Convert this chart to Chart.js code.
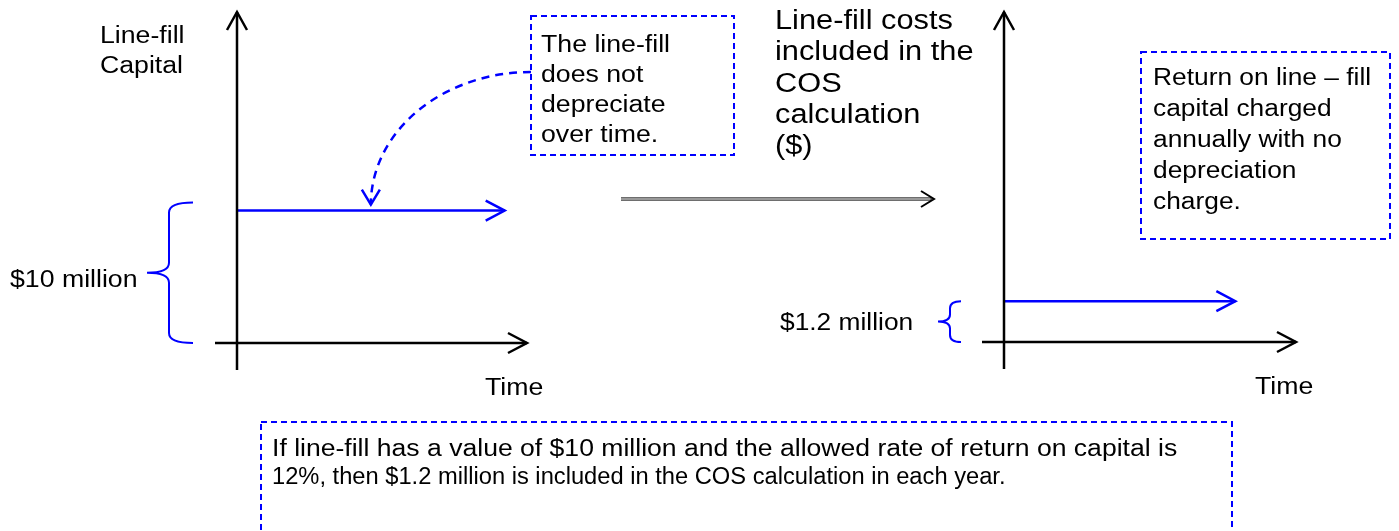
<!DOCTYPE html>
<html>
<head>
<meta charset="utf-8">
<script src="https://cdn.jsdelivr.net/npm/chart.js@4.4.0/dist/chart.umd.min.js"></script>
<style>
  html, body { margin: 0; padding: 0; background: #fff; }
  #stage { position: relative; width: 1399px; height: 531px; overflow: hidden; }
  #stage canvas { position: absolute; left: 0; top: 0; }
  .txt {
    position: absolute;
    font-family: "Liberation Sans", Arial, sans-serif;
    font-size: 23px;
    line-height: 30px;
    color: #000;
    white-space: nowrap;
    transform: scaleX(1.16);
    transform-origin: 0 0;
  }
  .txt .row { display: block; transform-origin: 0 0; }
</style>
</head>
<body>
<div id="stage">
  <canvas id="capitalChart" width="1399" height="531"></canvas>
  <canvas id="costChart" width="1399" height="531"></canvas>

  <div class="txt" style="left:100px;top:20px">Line-fill<br>Capital</div>
  <div class="txt" style="left:10px;top:264px">$10 million</div>
  <div class="txt" style="left:541px;top:29px">The line-fill<br>does not<br>depreciate<br>over time.</div>
  <div class="txt" style="left:485px;top:372px">Time</div>

  <div class="txt" style="left:775px;top:5px;font-size:27px;line-height:31.3px;transform:scaleX(1.14)">Line-fill costs<br>included in the<br>COS<br>calculation<br>($)</div>
  <div class="txt" style="left:780px;top:307px;transform:scaleX(1.145)">$1.2 million</div>
  <div class="txt" style="left:1153px;top:62px;line-height:31px;transform:scaleX(1.145)">Return on line &ndash; fill<br>capital charged<br>annually with no<br>depreciation<br>charge.</div>
  <div class="txt" style="left:1255px;top:371px">Time</div>

  <div class="txt" style="left:272px;top:434px;line-height:28px;transform:none">
    <span class="row" style="transform:scaleX(1.155)">If line-fill has a value of $10 million and the allowed rate of return on capital is</span>
    <span class="row" style="transform:scaleX(1.03)">12%, then $1.2 million is included in the COS calculation in each year.</span>
  </div>
</div>

<script>
// Left panel: line-fill capital ($ million) over time
const timeCapital = [0, 12];
const capitalValues = [10, 10];
// Right panel: annual return on line-fill included in COS ($ million)
const timeCost = [0, 10.3];
const costValues = [1.2, 1.2];
// axis ranges
const timeRange = [0, 13];
const capitalRange = [0, 25];
const costRange = [0, 9.7];

const BLUE = '#0000ff';

function toPoints(xs, ys) {
    return xs.map((x, i) => ({ x: x, y: ys[i] }));
}

function chevron(ctx, tipX, tipY, dirX, dirY, len, half) {
    const px = -dirY, py = dirX;
    ctx.beginPath();
    ctx.moveTo(tipX - dirX * len + px * half, tipY - dirY * len + py * half);
    ctx.lineTo(tipX, tipY);
    ctx.lineTo(tipX - dirX * len - px * half, tipY - dirY * len - py * half);
    ctx.stroke();
}

function brace(ctx, xEnd, xMid, xTip, yTop, yBot, r) {
    const yMid = (yTop + yBot) / 2;
    ctx.beginPath();
    ctx.moveTo(xEnd, yTop);
    ctx.quadraticCurveTo(xMid, yTop, xMid, yTop + r);
    ctx.lineTo(xMid, yMid - r);
    ctx.quadraticCurveTo(xMid, yMid, xTip, yMid);
    ctx.quadraticCurveTo(xMid, yMid, xMid, yMid + r);
    ctx.lineTo(xMid, yBot - r);
    ctx.quadraticCurveTo(xMid, yBot, xEnd, yBot);
    ctx.stroke();
}

function dashedBox(ctx, x1, y1, x2, y2) {
    ctx.save();
    ctx.strokeStyle = BLUE;
    ctx.lineWidth = 2;
    ctx.setLineDash([6, 4]);
    ctx.strokeRect(x1, y1, x2 - x1, y2 - y1);
    ctx.restore();
}

// Axes with arrowheads, arrowhead on the series line, and the brace
const axesPlugin = {
    id: 'diagramAxes',
    afterDatasetsDraw(chart, args, opts) {
        const { ctx, chartArea } = chart;
        const x = chart.scales.x, y = chart.scales.y;
        const x0 = x.getPixelForValue(0);
        const y0 = y.getPixelForValue(0);
        ctx.save();
        ctx.lineWidth = 2.5;
        ctx.strokeStyle = '#000';
        ctx.beginPath();
        ctx.moveTo(x0, y0 + 27);
        ctx.lineTo(x0, chartArea.top);
        ctx.stroke();
        chevron(ctx, x0, chartArea.top, 0, -1, 18, 10);
        ctx.beginPath();
        ctx.moveTo(x0 - 22, y0);
        ctx.lineTo(chartArea.right, y0);
        ctx.stroke();
        chevron(ctx, chartArea.right, y0, 1, 0, 19, 10);

        const meta = chart.getDatasetMeta(0);
        const last = meta.data[meta.data.length - 1];
        ctx.strokeStyle = BLUE;
        chevron(ctx, last.x, last.y, 1, 0, 19, 10);

        const vals = chart.data.datasets[0].data;
        const yTop = y.getPixelForValue(vals[0].y) - opts.over;
        ctx.lineWidth = 2;
        brace(ctx, x0 - opts.gap, x0 - opts.gap - opts.mid, x0 - opts.gap - opts.depth, yTop, y0, opts.r);
        ctx.restore();
    }
};

// Notes around the left panel
const capitalNotes = {
    id: 'capitalNotes',
    afterDraw(chart) {
        const ctx = chart.ctx;
        const x = chart.scales.x, y = chart.scales.y;
        dashedBox(ctx, 531, 16, 734, 155);
        dashedBox(ctx, 261, 422, 1232, 545);

        // curved pointer from the note to the flat line
        const tx = x.getPixelForValue(6);
        const ty = y.getPixelForValue(capitalValues[0]) - 6;
        const sx = 531, sy = 72;
        ctx.save();
        ctx.strokeStyle = BLUE;
        ctx.lineWidth = 2.5;
        ctx.setLineDash([8, 6]);
        ctx.beginPath();
        ctx.ellipse(sx, ty, sx - tx, ty - sy, 0, Math.PI * 1.5, Math.PI, true);
        ctx.stroke();
        ctx.setLineDash([]);
        chevron(ctx, tx, ty, 0, 1, 15, 9);
        ctx.restore();
    }
};

// Notes around the right panel
const costNotes = {
    id: 'costNotes',
    afterDraw(chart) {
        const ctx = chart.ctx;
        dashedBox(ctx, 1141, 52, 1390, 239);

        // grey transition arrow between the two panels
        ctx.save();
        ctx.lineCap = 'butt';
        ctx.strokeStyle = '#6e6e6e';
        ctx.lineWidth = 4;
        ctx.beginPath();
        ctx.moveTo(621, 199);
        ctx.lineTo(932, 199);
        ctx.stroke();
        ctx.strokeStyle = '#a8a8a8';
        ctx.lineWidth = 1.5;
        ctx.beginPath();
        ctx.moveTo(621, 199);
        ctx.lineTo(930, 199);
        ctx.stroke();
        ctx.strokeStyle = '#000';
        ctx.lineWidth = 2;
        chevron(ctx, 934, 199, 1, 0, 13, 8);
        ctx.restore();
    }
};

function makePanel(canvasId, times, values, yRange, padding, braceOpts, notes) {
    return new Chart(document.getElementById(canvasId), {
        type: 'line',
        data: {
            datasets: [{
                data: toPoints(times, values),
                borderColor: BLUE,
                borderWidth: 2.5,
                pointRadius: 0,
                tension: 0,
                fill: false
            }]
        },
        options: {
            responsive: false,
            animation: false,
            devicePixelRatio: 1,
            layout: { padding: padding },
            scales: {
                x: { type: 'linear', min: timeRange[0], max: timeRange[1], display: false },
                y: { type: 'linear', min: yRange[0], max: yRange[1], display: false }
            },
            plugins: {
                legend: { display: false },
                tooltip: { enabled: false },
                diagramAxes: braceOpts
            }
        },
        plugins: [axesPlugin, notes]
    });
}

makePanel('capitalChart', timeCapital, capitalValues, capitalRange,
    { left: 237, right: 872, top: 12, bottom: 188 },
    { gap: 44, mid: 24, depth: 90 - 44, r: 10, over: 8 },
    capitalNotes);

makePanel('costChart', timeCost, costValues, costRange,
    { left: 1004, right: 103, top: 12, bottom: 189 },
    { gap: 43, mid: 11, depth: 23, r: 7, over: 0 },
    costNotes);
</script>
</body>
</html>
